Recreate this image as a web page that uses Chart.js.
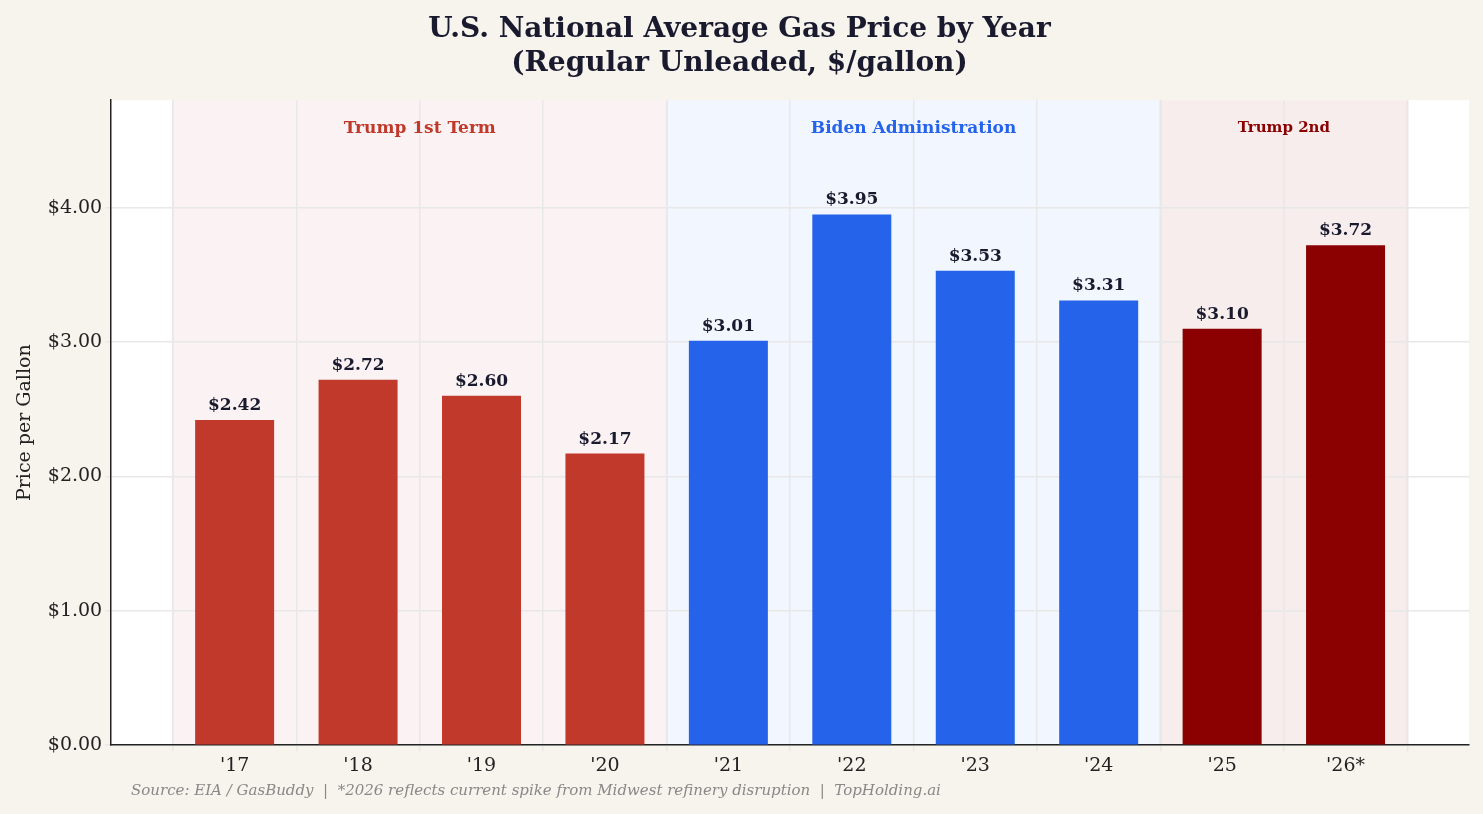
<!DOCTYPE html>
<html><head><meta charset="utf-8">
<script src="https://cdn.jsdelivr.net/npm/chart.js@4"></script>
<style>html,body{margin:0;padding:0;background:#f7f4ee;}#wrap{width:1483px;height:814px;position:relative;}</style>
</head><body><div id="wrap"><canvas id="c" width="1483" height="814"></canvas></div>
<script>
const years = ["", "'17","'18","'19","'20","'21","'22","'23","'24","'25","'26*", ""];
const prices = [null, 2.42, 2.72, 2.60, 2.17, 3.01, 3.95, 3.53, 3.31, 3.10, 3.72, null];
const barColors = [null,"#c0392b","#c0392b","#c0392b","#c0392b","#2563eb","#2563eb","#2563eb","#2563eb","#8b0000","#8b0000",null];
const eras = [
  {label:"Trump 1st Term", from:0.5, to:4.5, fill:"rgba(192,57,43,0.06)", color:"#c0392b", size:17},
  {label:"Biden Administration", from:4.5, to:8.5, fill:"rgba(37,99,235,0.06)", color:"#2563eb", size:17},
  {label:"Trump 2nd", from:8.5, to:10.5, fill:"rgba(139,0,0,0.07)", color:"#8b0000", size:15}
];
const F = "'DejaVu Serif', serif";
const plug = {
  id:'deco',
  beforeDraw(ch){
    const {ctx, chartArea:a, scales:{x}} = ch;
    ctx.save(); ctx.fillStyle='#fff'; ctx.fillRect(a.left,a.top,a.right-a.left,a.bottom-a.top);
    eras.forEach(e=>{
      const l=x.getPixelForValue(e.from), r=x.getPixelForValue(e.to);
      ctx.fillStyle=e.fill; ctx.fillRect(l,a.top,r-l,a.bottom-a.top);
      ctx.strokeStyle='rgba(0,0,0,0.05)'; ctx.lineWidth=1.5;
      ctx.beginPath(); ctx.moveTo(l,a.top); ctx.lineTo(l,a.bottom); ctx.moveTo(r,a.top); ctx.lineTo(r,a.bottom); ctx.stroke();
    });
    ctx.restore();
  },
  afterDatasetsDraw(ch){
    const {ctx, chartArea:a, scales:{x}} = ch;
    ctx.save(); ctx.textAlign='center'; ctx.textBaseline='middle';
    eras.forEach(e=>{
      ctx.fillStyle=e.color; ctx.font=`bold ${e.size}px ${F}`;
      ctx.fillText(e.label,(x.getPixelForValue(e.from)+x.getPixelForValue(e.to))/2,a.top+28);
    });
    const meta=ch.getDatasetMeta(0);
    ctx.fillStyle='#1a1a2e'; ctx.font=`bold 17px ${F}`; ctx.textBaseline='bottom';
    meta.data.forEach((b,i)=>{ if(prices[i]==null) return; ctx.fillText('$'+prices[i].toFixed(2), b.x, b.y-6); });
    ctx.fillStyle='#888'; ctx.font=`italic 15px ${F}`; ctx.textAlign='left'; ctx.textBaseline='middle';
    ctx.fillText('Source: EIA / GasBuddy  |  *2026 reflects current spike from Midwest refinery disruption  |  TopHolding.ai',131,791);
    ctx.restore();
  }
};
new Chart(document.getElementById('c'),{
  type:'bar',
  data:{labels:years,datasets:[{data:prices,backgroundColor:barColors,barPercentage:0.64,categoryPercentage:1}]},
  options:{responsive:false,animation:false,
    layout:{padding:{left:10,right:14,top:3,bottom:34}},
    plugins:{legend:{display:false},tooltip:{enabled:false},
      title:{display:true,text:['U.S. National Average Gas Price by Year','(Regular Unleaded, $/gallon)'],color:'#1a1a2e',font:{family:F,size:28,weight:'bold',lineHeight:1.2},padding:{top:10,bottom:20}}},
    scales:{
      x:{offset:false,grid:{color:'#e8e8e8',lineWidth:1.5,drawTicks:true,tickLength:6},border:{color:'#222',width:1.5},
        ticks:{color:'#222',font:{family:F,size:19},autoSkip:false,maxRotation:0}},
      y:{min:0,max:4.8,grid:{color:'#e8e8e8',lineWidth:1.5,tickLength:6},border:{color:'#222',width:1.5},
        afterBuildTicks(s){s.ticks=[0,1,2,3,4].map(v=>({value:v}));},
        ticks:{color:'#222',font:{family:F,size:19},callback:v=>'$'+v.toFixed(2)},
        title:{display:true,text:'Price per Gallon',color:'#222',font:{family:F,size:19},padding:{bottom:8}}}
    }},
  plugins:[plug]
});
</script></body></html>
